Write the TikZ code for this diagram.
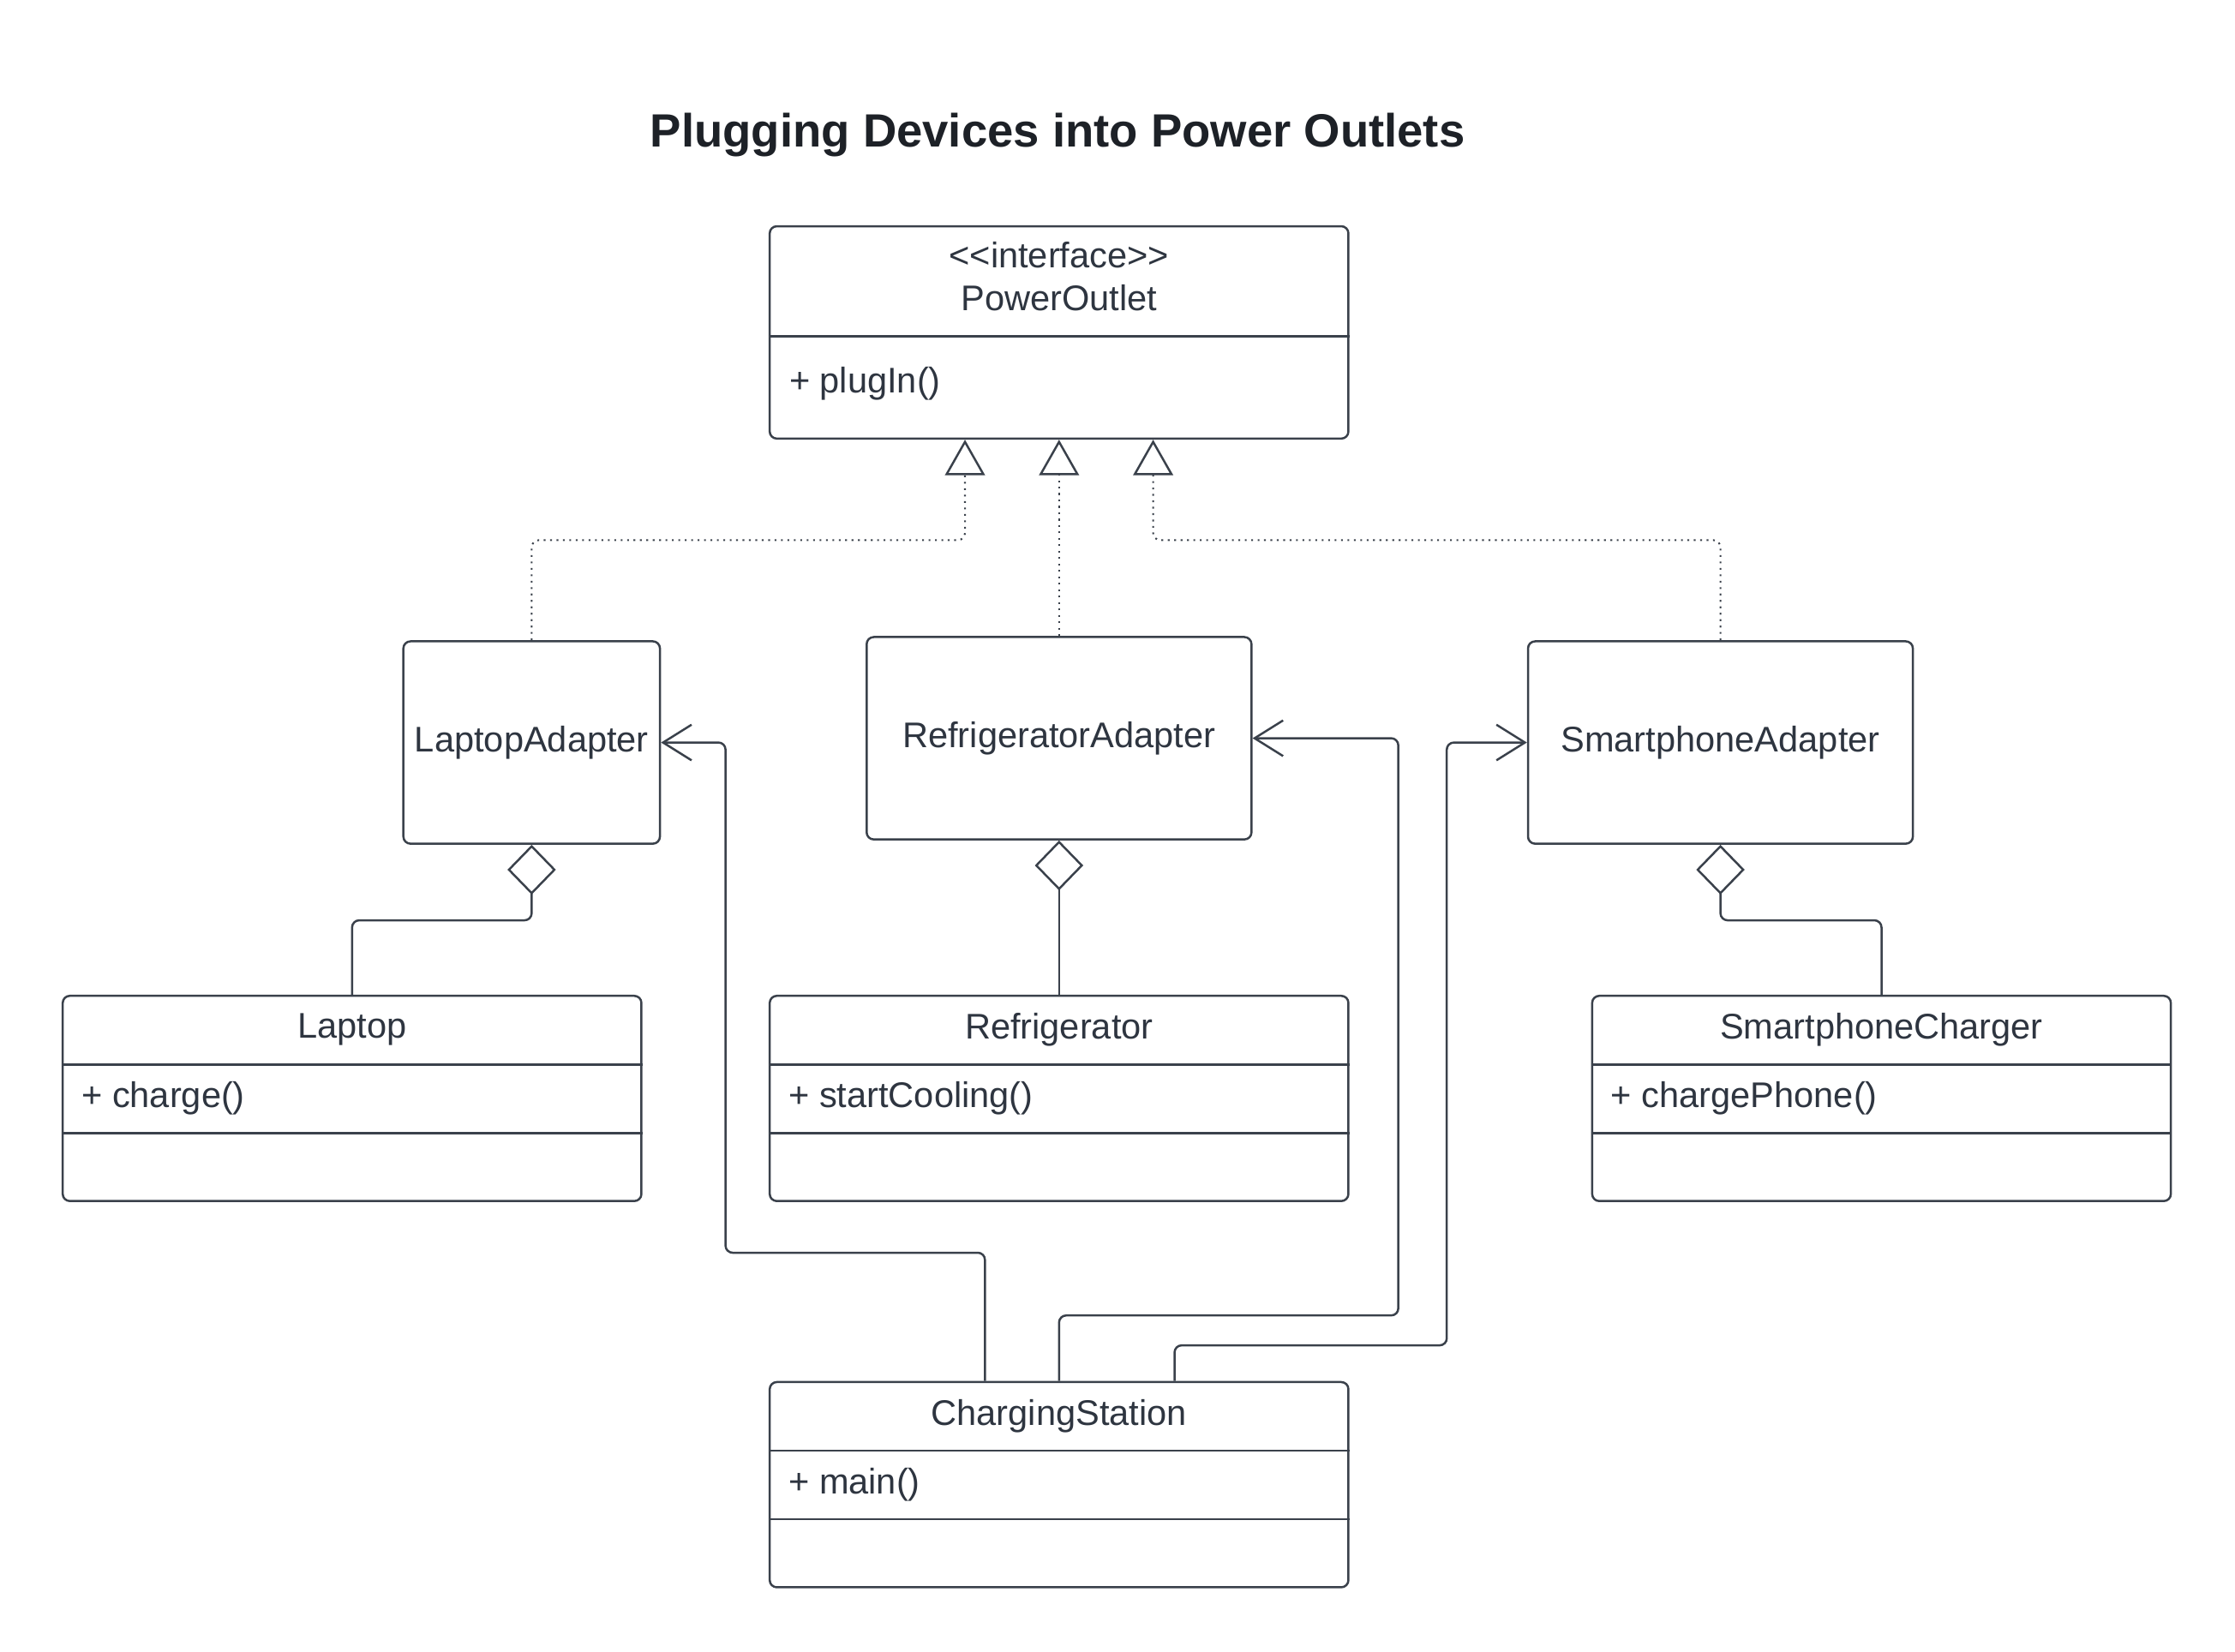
\documentclass[tikz,border=0pt]{standalone}
\usepackage{fontspec}
\setmainfont{Liberation Sans}
\usetikzlibrary{arrows.meta}
\definecolor{edge}{HTML}{3A414B}
\definecolor{ink}{HTML}{2E3540}
\definecolor{head}{HTML}{1D2127}
\newcommand{\umlclass}[4]{
  \node[classbox] (#1) at #2 {};
  \node[classname] (#1-name) at ([yshift=-9.8pt]#1.north) {#3};
  \node[member] (#1-op) at ([xshift=5.4pt,yshift=-29pt]#1.north west) {#4};
  \draw[sep] ([yshift=-19.6pt]#1.north west) -- ([yshift=-19.6pt]#1.north east);
  \draw[sep] ([yshift=-38.8pt]#1.north west) -- ([yshift=-38.8pt]#1.north east);
}

\begin{document}
\begin{tikzpicture}[x=0.4pt,y=-0.4pt]

\tikzset{box/.style={draw=edge, line width=0.6pt, rounded corners=2pt, fill=white, inner sep=0pt, text=ink, font=\fontsize{10}{12}\selectfont},
  classbox/.style={box, anchor=north, minimum width=162.4pt, minimum height=57.6pt},
  adapter/.style={box, minimum height=56.8pt},
  classname/.style={inner sep=0pt, text=ink, font=\fontsize{10}{12}\selectfont},
  member/.style={classname, anchor=west},
  sep/.style={draw=edge, line width=0.6pt},
  real/.style={draw=edge, line width=0.5pt, dash pattern=on 0.5pt off 1.3pt, rounded corners=2pt, -{Triangle[open, length=10pt, width=11.2pt, line width=0.6pt]}},
  agg/.style={draw=edge, line width=0.6pt, rounded corners=2pt, {Diamond[open, length=14pt, width=13.6pt, line width=0.6pt]}-},
  dep/.style={draw=edge, line width=0.6pt, rounded corners=2pt, -{Straight Barb[length=8pt, width=10pt, line width=0.6pt]}}}

\useasboundingbox (0,0) rectangle (1568,1159);

\node[font=\bfseries\fontsize{13.1}{15}\selectfont, text=head] (title) at (742,95) {Plugging Devices into Power Outlets};

\node[box, anchor=north, minimum width=162.4pt, minimum height=59.6pt] (outlet) at (743,158) {};
\node[classname] (outlet-kind) at ([yshift=-8.4pt]outlet.north) {<\kern0pt<interface>\kern0pt>};
\node[classname] (outlet-name) at ([yshift=-20.4pt]outlet.north) {PowerOutlet};
\draw[sep] ([yshift=-31.2pt]outlet.north west) -- ([yshift=-31.2pt]outlet.north east);
\node[member] (outlet-op) at ([xshift=5.6pt,yshift=-44.4pt]outlet.north west) {+ plugIn()};

\node[adapter, minimum width=72pt] (lapad) at (373,521) {LaptopAdapter};
\node[adapter, minimum width=108pt] (fridgead) at (743,518) {RefrigeratorAdapter};
\node[adapter, minimum width=108pt] (phonead) at (1207,521) {SmartphoneAdapter};

\umlclass{laptop}{(247,698)}{Laptop}{+ charge()}
\umlclass{fridge}{(743,698)}{Refrigerator}{+ startCooling()}
\umlclass{charger}{(1320,698)}{SmartphoneCharger}{+ chargePhone()}
\umlclass{station}{(743,969)}{ChargingStation}{+ main()}

\coordinate (r1) at (677,379);
\coordinate (r3) at (809,379);
\coordinate (d1) at (509,879);
\coordinate (d2) at (981,923);
\coordinate (d3) at (1015,944);

\draw[real] (lapad.north) |- (r1) -- ([xshift=-26.4pt]outlet.south);
\draw[real] (fridgead.north) -- (outlet.south);
\draw[real] (phonead.north) |- (r3) -- ([xshift=26.4pt]outlet.south);
\draw[agg] (lapad.south) -- ++(0,53) -| (laptop.north);
\draw[agg] (fridgead.south) -- (fridge.north);
\draw[agg] (phonead.south) -- ++(0,53) -| (charger.north);
\draw[dep] ([xshift=-20.8pt]station.north) |- (d1) |- (lapad.east);
\draw[dep] (station.north) |- (d2) |- (fridgead.east);
\draw[dep] ([xshift=32.4pt]station.north) |- (d3) |- (phonead.west);

\end{tikzpicture}
\end{document}
